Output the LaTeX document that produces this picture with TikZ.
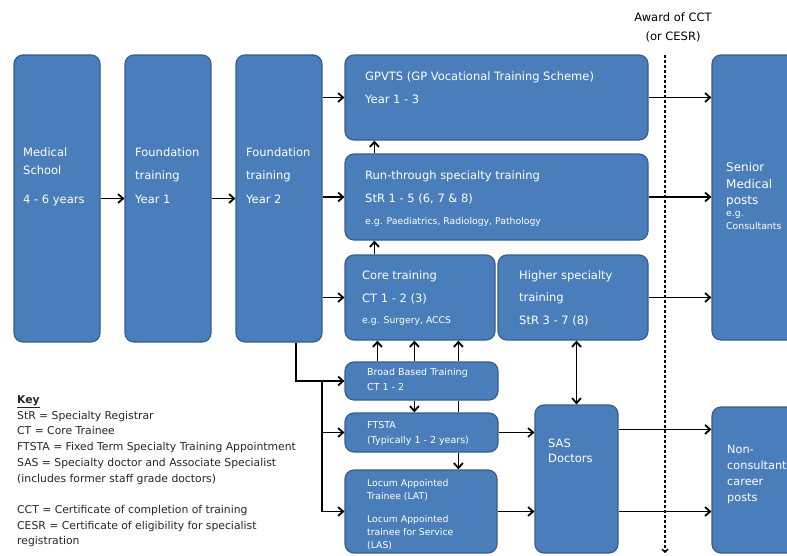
\documentclass[tikz,border=0pt]{standalone}
\usepackage{fontspec}
\setmainfont{DejaVu Sans}
\usetikzlibrary{arrows.meta}
\definecolor{boxblue}{RGB}{74,126,187}
\definecolor{boxline}{RGB}{56,93,138}

\begin{document}
\begin{tikzpicture}
  [x=1pt,y=-1pt,
   box/.style={draw=boxline,fill=boxblue,line width=1.2pt,rounded corners=9pt,inner sep=0pt},
   lbl/.style={text=white,anchor=north west,align=left,inner sep=0pt,font=\fontsize{11.5}{23}\selectfont},
   small/.style={lbl,font=\fontsize{9.3}{13}\selectfont},
   keytxt/.style={anchor=north west,align=left,inner sep=0pt,text=black!85,font=\fontsize{10.8}{15.7}\selectfont},
   arr/.style={line width=1.8pt,-{Straight Barb[length=5pt,width=9pt]}},
   arrtwo/.style={line width=1.8pt,{Straight Barb[length=5pt,width=9pt]}-{Straight Barb[length=5pt,width=9pt]}}]
  \clip (0,0) rectangle (787,555);

  % boxes
  \node[box,minimum width=86pt,minimum height=287pt] (ms) at (57,198.5) {};
  \node[box,minimum width=86pt,minimum height=287pt] (fy1) at (168,198.5) {};
  \node[box,minimum width=86pt,minimum height=287pt] (fy2) at (279,198.5) {};
  \node[box,minimum width=303pt,minimum height=85pt] (gp) at (496.5,97.5) {};
  \node[box,minimum width=303pt,minimum height=86pt] (rt) at (496.5,197) {};
  \node[box,minimum width=150pt,minimum height=85pt] (core) at (420,297.5) {};
  \node[box,minimum width=150pt,minimum height=85pt] (hst) at (573,297.5) {};
  \node[box,minimum width=153pt,minimum height=38pt] (bbt) at (421.5,381) {};
  \node[box,minimum width=153pt,minimum height=39pt] (ftsta) at (421.5,432.5) {};
  \node[box,minimum width=152pt,minimum height=83pt] (lat) at (421,511.5) {};
  \node[box,minimum width=83pt,minimum height=148pt] (sas) at (576.5,479) {};
  \node[box,minimum width=88pt,minimum height=285pt] (senior) at (756,197.5) {};
  \node[box,minimum width=88pt,minimum height=146pt] (nc) at (756,480) {};

  % box texts
  \node[lbl,font=\fontsize{11.5}{18}\selectfont] (ms-t) at (23,147.5) {Medical\\School\\[11pt]4 - 6 years};
  \node[lbl,font=\fontsize{11.5}{23.5}\selectfont] (fy1-t) at (135,147.5) {Foundation\\training\\Year 1};
  \node[lbl,font=\fontsize{11.5}{23.5}\selectfont] (fy2-t) at (246,147.5) {Foundation\\training\\Year 2};
  \node[lbl] (gp-t) at (365,71.5) {GPVTS (GP Vocational Training Scheme)\\Year 1 - 3};
  \node[lbl] (rt-t) at (365,170.5) {Run-through specialty training\\StR 1 - 5 (6, 7 \& 8)};
  \node[small] (rt-eg) at (365,217.5) {e.g. Paediatrics, Radiology, Pathology};
  \node[lbl] (core-t) at (362,270.5) {Core training\\CT 1 - 2 (3)};
  \node[small] (core-eg) at (362,316.5) {e.g. Surgery, ACCS};
  \node[lbl,font=\fontsize{11.5}{22.5}\selectfont] (hst-t) at (519,270.5) {Higher specialty\\training\\StR 3 - 7 (8)};
  \node[lbl,font=\fontsize{9.5}{15}\selectfont] (bbt-t) at (367,368.5) {Broad Based Training\\CT 1 - 2};
  \node[lbl,font=\fontsize{9.5}{15}\selectfont] (ftsta-t) at (367,421.5) {FTSTA\\(Typically 1 - 2 years)};
  \node[lbl,font=\fontsize{9.3}{12.6}\selectfont] (lat-t) at (367,479.5) {Locum Appointed\\Trainee (LAT)\\[11pt]Locum Appointed\\trainee for Service\\(LAS)};
  \node[lbl,font=\fontsize{11.5}{15.5}\selectfont] (sas-t) at (548,438.5) {SAS\\Doctors};
  \node[lbl,font=\fontsize{12}{16.5}\selectfont] (senior-t) at (726,162.5) {Senior\\Medical\\posts};
  \node[small] (senior-eg) at (726,211.5) {e.g.\\Consultants};
  \node[lbl,font=\fontsize{11.3}{15.7}\selectfont] (nc-t) at (727,445.5) {Non-\\consultant\\career\\posts};

  % award line
  \node[anchor=north,align=center,inner sep=0pt,font=\fontsize{11.5}{19}\selectfont] (award) at (673,13) {Award of CCT\\(or CESR)};
  \coordinate (cct-top) at (665,55);
  \coordinate (cct-bot) at (665,553);
  \draw[line width=1.4pt,densely dashed,-{Straight Barb[length=3pt,width=6pt]}] (cct-top) -- (cct-bot);

  % main route
  \draw[arr] (ms) -- (fy1);
  \draw[arr] (fy1) -- (fy2);
  \draw[arr] (fy2.east |- gp.west) -- (gp.west);
  \draw[arr] (fy2.east |- rt.west) -- (rt.west);
  \draw[arr] (fy2.east |- core.west) -- (core.west);
  \draw[arr] ([xshift=30pt]rt.north west) -- ([xshift=30pt]gp.south west);
  \draw[arr] ([xshift=30pt]core.north west) -- ([xshift=30pt]rt.south west);

  % broad based and other routes
  \coordinate (split) at (322,381);
  \draw[arr] ([xshift=17pt]fy2.south) |- (bbt.west);
  \draw[arr] (split) |- (ftsta.west);
  \draw[arr] (split) |- (lat.west);
  \draw[arr] ([xshift=33pt]bbt.north west) -- ([xshift=33pt]core.south west);
  \draw[arr] ([xshift=70pt]bbt.north west) -- ([xshift=70pt]core.south west);
  \draw[line width=1.8pt] ([xshift=114pt]ftsta.north west) -- ([xshift=114pt]bbt.south west);
  \draw[arr] ([xshift=114pt]bbt.north west) -- ([xshift=114pt]core.south west);
  \draw[arr] ([xshift=70pt]bbt.south west) -- ([xshift=70pt]ftsta.north west);
  \draw[arr] ([xshift=114pt]ftsta.south west) -- ([xshift=114pt]lat.north west);
  \draw[arr] (ftsta.east) -- (ftsta.east -| sas.west);
  \draw[arr] (lat.east) -- (lat.east -| sas.west);
  \draw[arrtwo] (hst.south -| sas.north) -- (sas.north);

  % to senior and career posts
  \draw[arr] (gp.east) -- (gp.east -| senior.west);
  \draw[arr] (rt.east) -- (rt.east -| senior.west);
  \draw[arr] (hst.east) -- (hst.east -| senior.west);
  \draw[arr] ([yshift=-25pt]sas.north east) -- ([yshift=-25pt]sas.north east -| nc.west);
  \draw[arr] (lat.east -| sas.east) -- (lat.east -| nc.west);

  % key
  \node[keytxt] (key) at (17,395.5) {\underline{\textbf{Key}}\\StR = Specialty Registrar\\CT = Core Trainee\\FTSTA = Fixed Term Specialty Training Appointment\\SAS = Specialty doctor and Associate Specialist\\(includes former staff grade doctors)\\[15.7pt]CCT = Certificate of completion of training\\CESR = Certificate of eligibility for specialist\\registration};
\end{tikzpicture}
\end{document}
